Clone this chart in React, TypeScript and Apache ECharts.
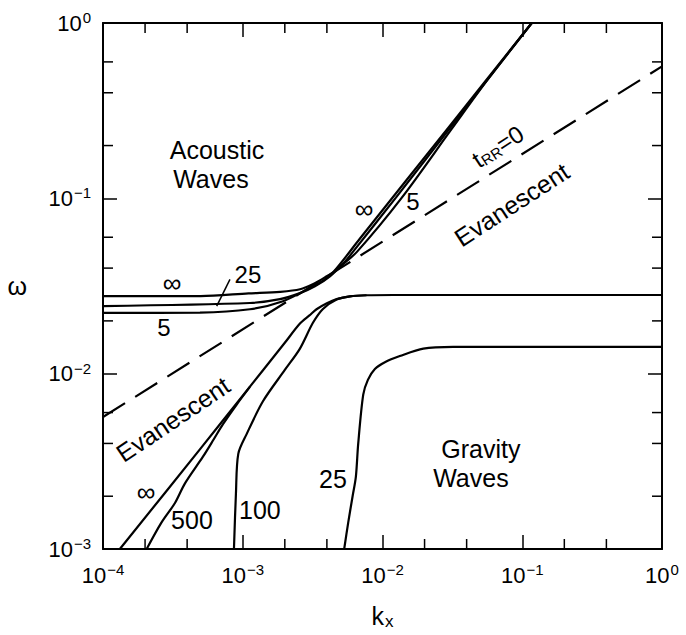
import React, { useEffect, useRef } from "react";
import * as echarts from "echarts";

const FONT = "'Liberation Sans', 'DejaVu Sans', Arial, sans-serif";

const X_MIN = 1e-4;
const X_MAX = 1;
const Y_MIN = 1e-3;
const Y_MAX = 1;

// minor tick values
const xMinorTicks = [2e-4, 4e-4, 2e-3, 4e-3, 2e-2, 4e-2, 0.2, 0.4];
const yMinorTicks = [2e-3, 4e-3, 6e-3, 0.02, 0.04, 0.06, 0.2, 0.4, 0.6];

// t_RR = 0 (dashed)
const kDashed = [1e-4, 1];
const wDashed = [0.00566, 0.566];

// acoustic branch, t_RR = infinity
const kAcInf = [1e-4, 5e-4, 1.1e-3, 1.85e-3, 2.57e-3, 3.28e-3, 3.87e-3, 4.5e-3, 6.9e-3, 0.03, 0.117];
const wAcInf = [0.0277, 0.0277, 0.0287, 0.0293, 0.0303, 0.0328, 0.0354, 0.0384, 0.059, 0.2565, 1.0];

// acoustic branch, t_RR = 25
const kAc25 = [1e-4, 1.125e-3, 1.845e-3, 2.566e-3, 3.284e-3, 4.205e-3, 5.383e-3, 6.14e-3, 0.01247, 0.0301, 0.117];
const wAc25 = [0.0243, 0.0253, 0.0266, 0.0288, 0.0315, 0.0359, 0.0435, 0.0495, 0.1009, 0.2495, 1.0];

// acoustic branch, t_RR = 5
const kAc5 = [1e-4, 4.94e-4, 1.125e-3, 1.94e-3, 3.025e-3, 3.873e-3, 4.959e-3, 6.56e-3, 0.01375, 0.03136, 0.0567, 0.117];
const wAc5 = [0.0222, 0.0223, 0.0233, 0.0259, 0.0308, 0.0345, 0.0408, 0.0495, 0.1009, 0.2495, 0.4765, 1.0];

// gravity branch, t_RR = infinity
const kGrInf = [1.32e-4, 5e-4, 1e-3, 2e-3, 2.566e-3, 3.0e-3, 3.373e-3, 4.0e-3, 4.696e-3, 5.847e-3, 7.69e-3, 1.2e-2, 1];
const wGrInf = [0.001, 0.00375, 0.0075, 0.015, 0.0193, 0.0215, 0.0233, 0.0252, 0.0266, 0.0276, 0.028, 0.0281, 0.0281];

// gravity branch, t_RR = 500
const kGr500 = [2.054e-4, 2.617e-4, 3.273e-4, 3.86e-4, 5.19e-4, 6.22e-4, 7.22e-4, 9.05e-4, 1.125e-3];
const wGr500 = [0.001, 0.001413, 0.00183, 0.002369, 0.00336, 0.00424, 0.00515, 0.00667, 0.0084];

// gravity branch, t_RR = 100
const kGr100 = [8.65e-4, 8.94e-4, 9.29e-4, 1.066e-3, 1.395e-3, 2.0e-3, 2.566e-3, 3.178e-3, 3.748e-3, 4.696e-3, 5.847e-3, 7.69e-3];
const wGr100 = [0.001, 0.00208, 0.00349, 0.00452, 0.00696, 0.0105, 0.0139, 0.0195, 0.0234, 0.0265, 0.0276, 0.028];

// gravity branch, t_RR = 25
const kGr25 = [5.32e-3, 5.68e-3, 6.11e-3, 6.45e-3, 6.7e-3, 7.28e-3, 7.86e-3, 8.82e-3, 0.0104, 0.0133, 0.0196, 0.032, 1];
const wGr25 = [0.001, 0.00141, 0.002, 0.00259, 0.00398, 0.00759, 0.00922, 0.01063, 0.01163, 0.0126, 0.0139, 0.0142, 0.0142];

// text annotations anchored in data coordinates
const annotations = [
  { text: "Acoustic", k: 6.54e-4, w: 0.1878, rot: 0, size: 25 },
  { text: "Waves", k: 5.92e-4, w: 0.129, rot: 0, size: 25 },
  { text: "\u221E", k: 3.115e-4, w: 0.03275, rot: 0, size: 26 },
  { text: "25", k: 1.089e-3, w: 0.03678, rot: 0, size: 24 },
  { text: "5", k: 2.73e-4, w: 0.0183, rot: 0, size: 24 },
  { text: "\u221E", k: 7.36e-3, w: 0.0875, rot: 0, size: 26 },
  { text: "5", k: 0.0165, w: 0.0958, rot: 0, size: 24 },
  { text: "Evanescent", k: 0.0841, w: 0.0922, rot: 33, size: 25 },
  { text: "Evanescent", k: 3.167e-4, w: 5.495e-3, rot: 34, size: 25 },
  { text: "\u221E", k: 2.03e-4, w: 2.11e-3, rot: 0, size: 26 },
  { text: "500", k: 4.33e-4, w: 1.468e-3, rot: 0, size: 25 },
  { text: "100", k: 1.327e-3, w: 1.671e-3, rot: 0, size: 25 },
  { text: "25", k: 4.418e-3, w: 2.496e-3, rot: 0, size: 25 },
  { text: "Gravity", k: 0.0506, w: 3.726e-3, rot: 0, size: 25 },
  { text: "Waves", k: 0.0429, w: 2.529e-3, rot: 0, size: 25 },
];
const tRRLabel = { k: 0.0669, w: 0.1977, rot: 33 };
const leader25 = { k1: 8.1e-4, w1: 0.0345, k2: 6.51e-4, w2: 0.0243 };

const zip = (k: number[], w: number[]) => k.map((v, i) => [v, w[i]]);

const expStr = (v: number) => {
  const e = Math.round(Math.log10(v));
  return e < 0 ? "\u2212" + String(-e) : String(e);
};

const MAJOR = 14;
const MINOR = 10;

const labelRich = {
  b: { fontSize: 22, fontFamily: FONT, color: "#000" },
  e: { fontSize: 15, fontFamily: FONT, color: "#000", padding: [0, 0, 11, 1] },
};

const frameAxis = (extra: any) => ({
  type: "log",
  logBase: 10,
  axisLine: { show: true, onZero: false, lineStyle: { color: "#000", width: 2 } },
  axisTick: { show: true, inside: true, length: MAJOR, lineStyle: { color: "#000", width: 1.5 } },
  splitLine: { show: false },
  minorTick: { show: false },
  ...extra,
});

const lineSeries = (name: string, k: number[], w: number[], extra: any = {}) => ({
  type: "line",
  name,
  data: zip(k, w),
  showSymbol: false,
  symbol: "none",
  smooth: 0.3,
  clip: true,
  silent: true,
  lineStyle: { color: "#000", width: 2.2 },
  z: 3,
  ...extra,
});

export default function App() {
  const ref = useRef<HTMLDivElement>(null);

  useEffect(() => {
    if (!ref.current) return;
    const chart = echarts.init(ref.current, null, { renderer: "svg" });

    const option: any = {
      animation: false,
      backgroundColor: "#fff",
      grid: { left: 103, right: 24, top: 23, bottom: 78, containLabel: false },
      xAxis: [
        frameAxis({
          position: "bottom",
          min: X_MIN,
          max: X_MAX,
          name: "{k|k}{s|x}",
          nameLocation: "middle",
          nameGap: 52,
          nameTextStyle: {
            rich: {
              k: { fontSize: 25, fontFamily: FONT, color: "#000" },
              s: { fontSize: 17, fontFamily: FONT, color: "#000", padding: [12, 0, 0, 1] },
            },
          },
          axisLabel: {
            show: true,
            margin: 13,
            formatter: (v: number) => `{b|10}{e|${expStr(v)}}`,
            rich: labelRich,
          },
        }),
        frameAxis({
          position: "top",
          min: X_MIN,
          max: X_MAX,
          axisLabel: { show: false },
        }),
      ],
      yAxis: [
        frameAxis({
          position: "left",
          min: Y_MIN,
          max: Y_MAX,
          name: "\u03C9",
          nameLocation: "middle",
          nameRotate: 0,
          nameGap: 76,
          nameTextStyle: { fontSize: 25, fontFamily: FONT, color: "#000" },
          axisLabel: {
            show: true,
            margin: 12,
            formatter: (v: number) => `{b|10}{e|${expStr(v)}}`,
            rich: labelRich,
          },
        }),
        frameAxis({
          position: "right",
          min: Y_MIN,
          max: Y_MAX,
          axisLabel: { show: false },
        }),
      ],
      series: [
        {
          type: "custom",
          name: "xMinorTicks",
          silent: true,
          data: xMinorTicks.map((v) => [v, Y_MIN]),
          renderItem: (params: any, api: any) => {
            const v = api.value(0);
            const b = api.coord([v, Y_MIN]);
            const t = api.coord([v, Y_MAX]);
            const st = { stroke: "#000", lineWidth: 1.5 };
            return {
              type: "group",
              children: [
                { type: "line", shape: { x1: b[0], y1: b[1], x2: b[0], y2: b[1] - MINOR }, style: st },
                { type: "line", shape: { x1: t[0], y1: t[1], x2: t[0], y2: t[1] + MINOR }, style: st },
              ],
            };
          },
        },
        {
          type: "custom",
          name: "yMinorTicks",
          silent: true,
          data: yMinorTicks.map((v) => [X_MIN, v]),
          renderItem: (params: any, api: any) => {
            const v = api.value(1);
            const l = api.coord([X_MIN, v]);
            const r = api.coord([X_MAX, v]);
            const st = { stroke: "#000", lineWidth: 1.5 };
            return {
              type: "group",
              children: [
                { type: "line", shape: { x1: l[0], y1: l[1], x2: l[0] + MINOR, y2: l[1] }, style: st },
                { type: "line", shape: { x1: r[0], y1: r[1], x2: r[0] - MINOR, y2: r[1] }, style: st },
              ],
            };
          },
        },
        lineSeries("tRR=0", kDashed, wDashed, {
          smooth: false,
          lineStyle: { color: "#000", width: 2.2, type: [26, 12] },
        }),
        lineSeries("acoustic inf", kAcInf, wAcInf),
        lineSeries("acoustic 25", kAc25, wAc25),
        lineSeries("acoustic 5", kAc5, wAc5),
        lineSeries("gravity inf", kGrInf, wGrInf),
        lineSeries("gravity 500", kGr500, wGr500),
        lineSeries("gravity 100", kGr100, wGr100),
        lineSeries("gravity 25", kGr25, wGr25),
      ],
    };

    chart.setOption(option);

    const px = (k: number, w: number) => chart.convertToPixel({ gridIndex: 0 } as any, [k, w]) as number[];

    const graphics: any[] = annotations.map((a) => {
      const p = px(a.k, a.w);
      return {
        type: "text",
        x: p[0],
        y: p[1],
        rotation: (a.rot * Math.PI) / 180,
        silent: true,
        z: 10,
        style: {
          text: a.text,
          fontSize: a.size,
          fontFamily: FONT,
          fill: "#000",
          align: "center",
          verticalAlign: "middle",
        },
      };
    });
    const pt = px(tRRLabel.k, tRRLabel.w);
    graphics.push({
      type: "text",
      x: pt[0],
      y: pt[1],
      rotation: (tRRLabel.rot * Math.PI) / 180,
      silent: true,
      z: 10,
      style: {
        text: "{t|t}{s|RR}{t|=0}",
        fill: "#000",
        align: "center",
        verticalAlign: "middle",
        rich: {
          t: { fontSize: 24, fontFamily: FONT, fill: "#000" },
          s: { fontSize: 15, fontFamily: FONT, fill: "#000", padding: [9, 0, 0, 0] },
        },
      },
    });
    const l1 = px(leader25.k1, leader25.w1);
    const l2 = px(leader25.k2, leader25.w2);
    graphics.push({
      type: "line",
      silent: true,
      z: 10,
      shape: { x1: l1[0], y1: l1[1], x2: l2[0], y2: l2[1] },
      style: { stroke: "#000", lineWidth: 1.5 },
    });

    chart.setOption({ graphic: graphics });

    return () => chart.dispose();
  }, []);

  return (
    <div
      ref={ref}
      style={{ position: "fixed", left: 0, top: 0, width: 686, height: 635, background: "#fff" }}
    />
  );
}
